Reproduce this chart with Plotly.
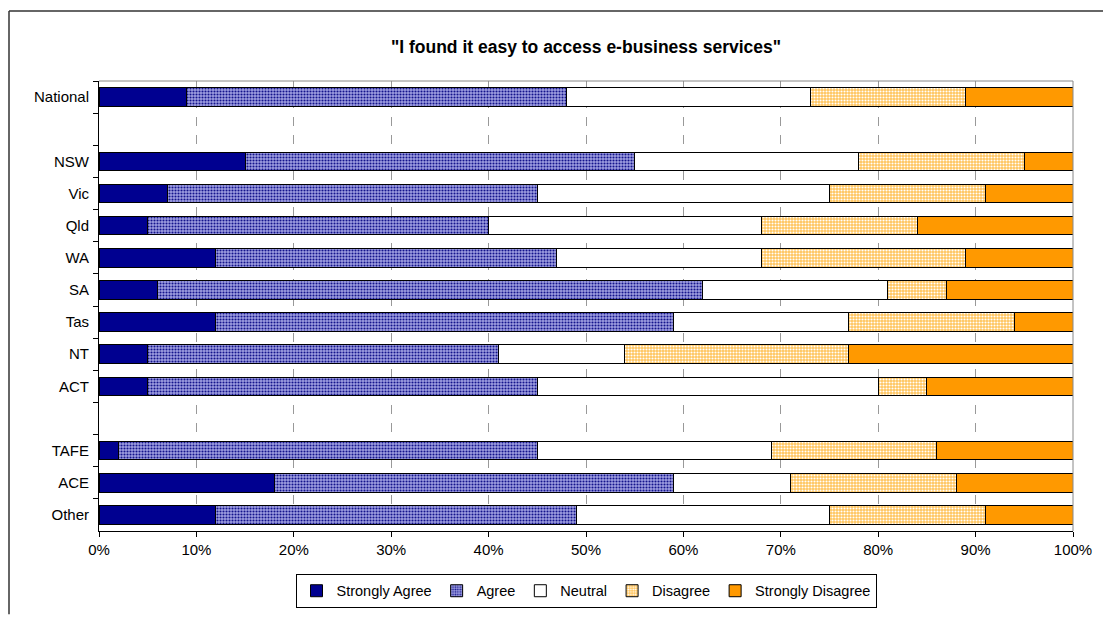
import plotly.graph_objects as go

categories = ["National", " ", "NSW", "Vic", "Qld", "WA", "SA", "Tas", "NT", "ACT", "  ", "TAFE", "ACE", "Other"]
series_names = ["Strongly Agree", "Agree", "Neutral", "Disagree", "Strongly Disagree"]
strongly_agree = [9, None, 15, 7, 5, 12, 6, 12, 5, 5, None, 2, 18, 12]
agree = [39, None, 40, 38, 35, 35, 56, 47, 36, 40, None, 43, 41, 37]
neutral = [25, None, 23, 30, 28, 21, 19, 18, 13, 35, None, 24, 12, 26]
disagree = [16, None, 17, 16, 16, 21, 6, 17, 23, 5, None, 17, 17, 16]
strongly_disagree = [11, None, 5, 9, 16, 11, 13, 6, 23, 15, None, 14, 12, 9]
x_ticks = [0, 10, 20, 30, 40, 50, 60, 70, 80, 90, 100]
x_tick_labels = ["0%", "10%", "20%", "30%", "40%", "50%", "60%", "70%", "80%", "90%", "100%"]

values = [strongly_agree, agree, neutral, disagree, strongly_disagree]
styles = [
    dict(color="#000090"),
    dict(color="#8c8cd8", pattern=dict(shape=".", bgcolor="#a0a0e2", fgcolor="#14148c", size=3, solidity=0.4, fillmode="replace")),
    dict(color="#ffffff"),
    dict(color="#ffd27f", pattern=dict(shape=".", bgcolor="#ffc45a", fgcolor="#ffffff", size=3, solidity=0.4, fillmode="replace")),
    dict(color="#ff9900"),
]

fig = go.Figure()
for name, vals, st in zip(series_names, values, styles):
    marker = dict(line=dict(color="#000000", width=1))
    marker.update(st)
    fig.add_trace(go.Bar(
        y=categories, x=vals, name=name, orientation="h", marker=marker,
        hoverinfo="x+y+name",
    ))

# page body has an 8px margin; work in figure coordinates
OFF = 8
W, H = 1111 - OFF, 620 - OFF
L, R, T, B = 99 - OFF, 1073 - OFF, 81 - OFF, 540 - OFF
pw, ph = R - L, B - T

def px(x):
    return (x - L) / pw

def py(y):
    return (B - y) / ph

shapes = [
    # outer chart border (only left and top visible in the frame)
    dict(type="line", xref="paper", yref="paper", x0=px(1), x1=px(1), y0=py(H + 5), y1=py(1.5),
         line=dict(color="#333333", width=1.5), layer="below"),
    dict(type="line", xref="paper", yref="paper", x0=px(1), x1=px(W + 5), y0=py(1.5), y1=py(1.5),
         line=dict(color="#333333", width=1.5), layer="below"),
    # plot area border (gray top and right)
    dict(type="line", xref="paper", yref="paper", x0=0, x1=1, y0=1, y1=1, line=dict(color="#888888", width=1)),
    dict(type="line", xref="paper", yref="paper", x0=1, x1=1, y0=0, y1=1, line=dict(color="#888888", width=1)),
]

fig.update_layout(
    barmode="stack",
    bargap=0.42,
    width=W, height=H,
    margin=dict(l=L, r=W - R, t=T, b=H - B, pad=0),
    paper_bgcolor="#ffffff",
    plot_bgcolor="#ffffff",
    font=dict(family="Liberation Sans, Arial, sans-serif", size=15, color="#000000"),
    title=dict(text="<b>\"I found it easy to access e-business services\"</b>",
               x=0.5, xref="paper", xanchor="center", y=1 - (47 - OFF) / H, yanchor="middle",
               font=dict(size=17.5, family="Liberation Sans, Arial, sans-serif", color="#000000")),
    legend=dict(orientation="h", x=0.5, xanchor="center", xref="paper", y=py(601 - OFF), yanchor="middle",
                bordercolor="#000000", borderwidth=1, bgcolor="#ffffff",
                font=dict(size=14.5), traceorder="normal", itemwidth=30, tracegroupgap=0),
    shapes=shapes,
    showlegend=True,
)

fig.update_xaxes(
    range=[0, 100], tickvals=x_ticks, ticktext=x_tick_labels,
    showgrid=True, gridcolor="#999999", griddash="dash", gridwidth=1,
    showline=True, linecolor="#000000", linewidth=1,
    ticks="outside", ticklen=5, tickcolor="#000000", zeroline=False,
    tickfont=dict(size=15),
)
fig.update_yaxes(
    type="category", categoryorder="array", categoryarray=categories,
    autorange="reversed", tickson="boundaries",
    showline=True, linecolor="#000000", linewidth=1,
    ticks="outside", ticklen=5, tickcolor="#000000", showgrid=False,
    tickfont=dict(size=15), ticklabelstandoff=6,
)

fig.write_html("out.html")
